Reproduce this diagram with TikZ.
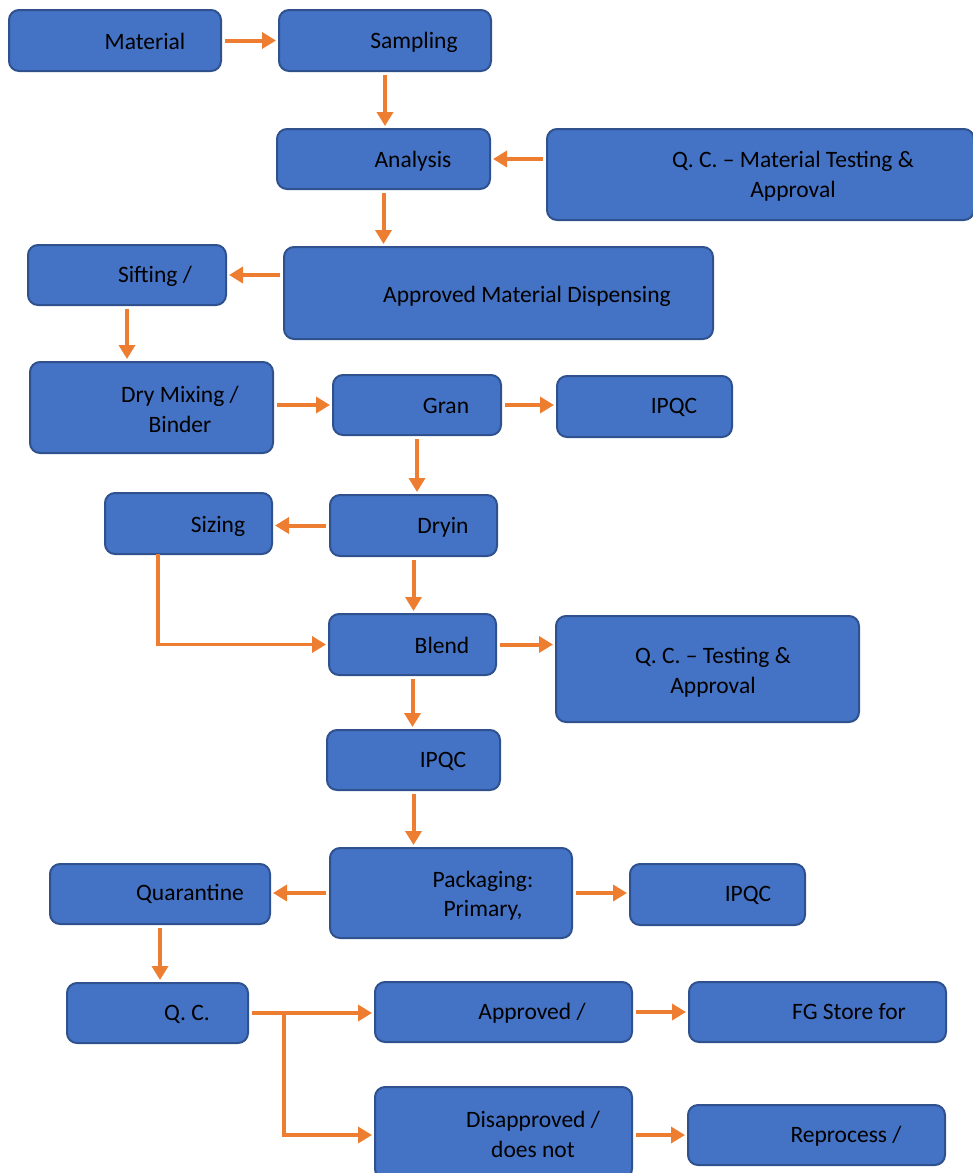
\documentclass[tikz,border=0pt]{standalone}
\usepackage{fontspec}
\setmainfont{Carlito}
\usetikzlibrary{arrows.meta,calc}
\definecolor{boxfill}{HTML}{4472C4}
\definecolor{boxline}{HTML}{2F528F}
\definecolor{arr}{HTML}{ED7D31}
\tikzset{
  box/.style={draw=boxline, fill=boxfill, line width=2pt, rounded corners=10pt, inner sep=0pt},
  lbl/.style={align=center, inner sep=0pt, font=\fontsize{23.5}{29.5}\selectfont},
  flow/.style={draw=arr, line width=4pt, -{Triangle[width=16pt,length=14pt]}, shorten <=3pt, shorten >=2pt},
  thinflow/.style={draw=arr, line width=3.5pt, -{Triangle[width=16pt,length=14pt]}, shorten >=2pt}
}
\begin{document}
\begin{tikzpicture}[x=1pt,y=-1pt]
\useasboundingbox (0,0) rectangle (973,1173);
% boxes
\node[box, minimum width=212, minimum height=61] (material) at (115,40.5) {};
\node[box, minimum width=212, minimum height=61] (sampling) at (385,40.5) {};
\node[box, minimum width=213, minimum height=60] (analysis) at (383.5,159) {};
\node[box, minimum width=427, minimum height=91] (qcmat) at (760.5,174.5) {};
\node[box, minimum width=429, minimum height=92] (dispensing) at (498.5,293) {};
\node[box, minimum width=198, minimum height=60] (sifting) at (127,275) {};
\node[box, minimum width=243, minimum height=91] (drymix) at (151.5,407.5) {};
\node[box, minimum width=168, minimum height=60] (gran) at (417,405) {};
\node[box, minimum width=175, minimum height=61] (ipqca) at (644.5,406.5) {};
\node[box, minimum width=167, minimum height=61] (dryin) at (413.5,525.5) {};
\node[box, minimum width=167, minimum height=61] (sizing) at (188.5,523.5) {};
\node[box, minimum width=167, minimum height=61] (blend) at (412.5,644.5) {};
\node[box, minimum width=303, minimum height=106] (qctest) at (707.5,669) {};
\node[box, minimum width=173, minimum height=60] (ipqcb) at (413.5,760) {};
\node[box, minimum width=242, minimum height=90] (packaging) at (451,893) {};
\node[box, minimum width=220, minimum height=60] (quarantine) at (160,894) {};
\node[box, minimum width=175, minimum height=61] (ipqcc) at (717.5,894.5) {};
\node[box, minimum width=181, minimum height=60] (qc) at (157.5,1013) {};
\node[box, minimum width=257, minimum height=60] (approved) at (503.5,1012) {};
\node[box, minimum width=257, minimum height=60] (fg) at (817.5,1012) {};
\node[box, minimum width=257, minimum height=92] (disapproved) at (503.5,1133) {};
\node[box, minimum width=257, minimum height=60] (reprocess) at (816.5,1135) {};
% texts
\node[lbl] (tmaterial) at (145,41) {Material};
\node[lbl] (tsampling) at (414,42) {Sampling};
\node[lbl] (tanalysis) at (413,161) {Analysis};
\node[lbl] (tqcmat) at (793,176) {Q. C. -- Material Testing \&\\Approval};
\node[lbl] (tdisp) at (527,296) {Approved Material Dispensing};
\node[lbl] (tsifting) at (155,276) {Sifting /};
\node[lbl] (tdrymix) at (180,409.5) {Dry Mixing /\\Binder};
\node[lbl] (tgran) at (446,406) {Gran};
\node[lbl] (tipqca) at (674,407) {IPQC};
\node[lbl] (tdryin) at (443,527) {Dryin};
\node[lbl] (tsizing) at (218,526) {Sizing};
\node[lbl] (tblend) at (442,645) {Blend};
\node[lbl] (tqctest) at (713,672.5) {Q. C. -- Testing \&\\Approval};
\node[lbl] (tipqcb) at (443,761) {IPQC};
\node[lbl] (tpack) at (483,895.5) {Packaging:\\Primary,};
\node[lbl] (tquar) at (190,894) {Quarantine};
\node[lbl] (tipqcc) at (748,895) {IPQC};
\node[lbl] (tqc) at (187,1014) {Q. C.};
\node[lbl] (tapp) at (532,1013) {Approved /};
\node[lbl] (tfg) at (849,1012) {FG Store for};
\node[lbl] (tdis) at (533,1134.5) {Disapproved /\\does not};
\node[lbl] (trep) at (846,1136) {Reprocess /};
% connectors
\draw[flow] (material.east) -- (sampling.west |- material.east);
\draw[flow] (sampling.south) -- (sampling.south |- analysis.north);
\draw[flow] (qcmat.west |- analysis.east) -- (analysis.east);
\draw[flow] (analysis.south) -- (analysis.south |- dispensing.north);
\draw[flow] (dispensing.west |- sifting.east) -- (sifting.east);
\draw[flow] (sifting.south) -- (sifting.south |- drymix.north);
\draw[flow] (drymix.east |- gran.west) -- (gran.west);
\draw[flow] (gran.east) -- (ipqca.west |- gran.east);
\draw[flow] (gran.south) -- (gran.south |- dryin.north);
\draw[flow] (dryin.west) -- (sizing.east |- dryin.west);
\coordinate (sizbend) at ([xshift=-30.5pt,yshift=1pt]sizing.south);
\draw[thinflow, shorten <=0pt] (sizbend) |- (blend.west);
\draw[flow] (dryin.south) -- (dryin.south |- blend.north);
\draw[flow] (blend.east) -- (qctest.west |- blend.east);
\draw[flow] (blend.south) -- (blend.south |- ipqcb.north);
\draw[flow] (ipqcb.south) -- (ipqcb.south |- packaging.north);
\draw[flow] (packaging.west) -- (quarantine.east |- packaging.west);
\draw[flow] (packaging.east) -- (ipqcc.west |- packaging.east);
\draw[flow] (quarantine.south) -- (quarantine.south |- qc.north);
\draw[flow] (qc.east) -- (approved.west |- qc.east);
\coordinate (qcbranch) at (284,1013);
\draw[thinflow] (qcbranch) |- (disapproved.west |- reprocess.west);
\draw[flow] (approved.east) -- (fg.west);
\draw[flow] (disapproved.east |- reprocess.west) -- (reprocess.west);
\end{tikzpicture}
\end{document}
